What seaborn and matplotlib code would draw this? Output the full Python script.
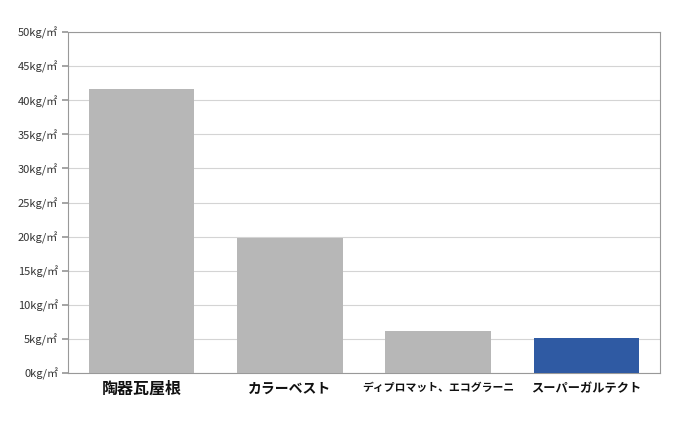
import matplotlib
matplotlib.use('Agg')
import matplotlib.pyplot as plt
import seaborn as sns
import pandas as pd

categories = ['陶器瓦屋根', 'カラーベスト', 'ディプロマット、エコグラーニ', 'スーパーガルテクト']
weights = [41.6, 19.8, 6.2, 5.1]
bar_colors = ['#b7b7b7', '#b7b7b7', '#b7b7b7', '#2f5aa3']
label_sizes = [11.5, 10, 7.8, 8.8]
y_ticks = list(range(0, 55, 5))

sns.set_theme(style='white')
plt.rcParams['font.family'] = ['Noto Sans CJK JP', 'DejaVu Sans']

df = pd.DataFrame({'category': categories, 'weight': weights})

fig = plt.figure(figsize=(7, 4.21), dpi=100)
ax = fig.add_axes([0.097, 0.114, 0.846, 0.81])

sns.barplot(data=df, x='category', y='weight', hue='category', palette=bar_colors,
            width=0.71, saturation=1, linewidth=0, legend=False, ax=ax, zorder=3)

ax.set_ylim(0, 50)
ax.set_yticks(y_ticks)
ax.set_yticklabels([f'{v}kg/㎡' for v in y_ticks], fontsize=8, color='#333333')
ax.set_xticks(range(len(categories)))
ax.set_xticklabels(categories, fontweight='bold', color='#111111')
for lbl, size in zip(ax.get_xticklabels(), label_sizes):
    lbl.set_fontsize(size)
    lbl.set_verticalalignment('center')
ax.set_xlabel('')
ax.set_ylabel('')
ax.grid(axis='y', color='#d4d4d4', linewidth=0.8, zorder=0)
ax.tick_params(axis='y', length=4, color='#999999', left=True, pad=3)
ax.tick_params(axis='x', length=0, pad=11)

for side in ['top', 'right', 'left', 'bottom']:
    ax.spines[side].set_color('#999999')
    ax.spines[side].set_linewidth(0.8)

fig.savefig('out.png', dpi=100)
